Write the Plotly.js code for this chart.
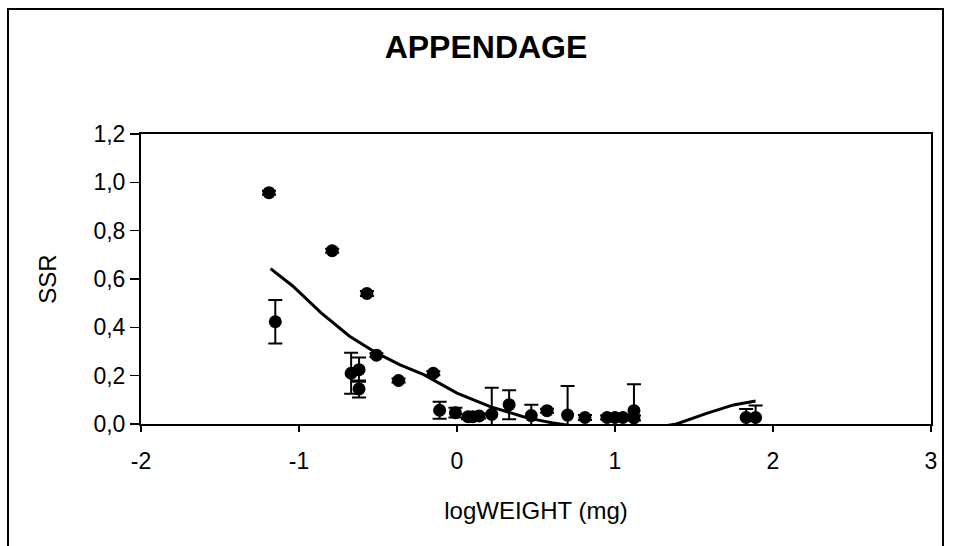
<!DOCTYPE html>
<html>
<head>
<meta charset="utf-8">
<script src="https://cdn.plot.ly/plotly-3.0.1.min.js"></script>
<style>
  html, body { margin: 0; padding: 0; background: #ffffff; }
  #chart { width: 955px; height: 546px; }
</style>
</head>
<body>
<div id="chart"></div>
<script>
// Observed points (logWEIGHT, SSR) with error bar half-lengths
var pointX = [-1.19, -1.15, -0.79, -0.57, -0.51, -0.67, -0.62, -0.62, -0.37, -0.15, -0.11, -0.01, 0.07, 0.10, 0.14, 0.22, 0.33, 0.47, 0.57, 0.70, 0.81, 0.95, 1.00, 1.05, 1.12, 1.12, 1.83, 1.89];
var pointY = [0.957, 0.423, 0.717, 0.54, 0.285, 0.21, 0.225, 0.145, 0.18, 0.21, 0.057, 0.047, 0.03, 0.03, 0.033, 0.04, 0.08, 0.035, 0.055, 0.037, 0.027, 0.027, 0.027, 0.027, 0.055, 0.025, 0.027, 0.027];
var pointErr = [0.008, 0.09, 0.008, 0.01, 0.008, 0.085, 0.05, 0.035, 0.008, 0.008, 0.035, 0.02, 0.01, 0.01, 0.01, 0.11, 0.06, 0.045, 0.008, 0.12, 0.01, 0.008, 0.008, 0.01, 0.11, 0.01, 0.035, 0.05];

// Fitted curve
var curveX = [-1.18, -1.04, -0.86, -0.68, -0.51, -0.36, -0.21, 0.0, 0.21, 0.42, 0.5, 0.6, 0.8, 1.0, 1.2, 1.39, 1.58, 1.75, 1.89];
var curveY = [0.643, 0.571, 0.46, 0.363, 0.294, 0.245, 0.204, 0.128, 0.072, 0.03, 0.018, 0.005, -0.015, -0.025, -0.02, 0.0, 0.044, 0.079, 0.095];

var xTicks = [-2, -1, 0, 1, 2, 3];
var yTicks = [0, 0.2, 0.4, 0.6, 0.8, 1.0, 1.2];

var FONT = 'Liberation Sans, Arial, sans-serif';

var traces = [
  {
    x: pointX, y: pointY, type: 'scatter', mode: 'markers',
    marker: { color: '#000000', size: 13 },
    error_y: { type: 'data', array: pointErr, visible: true, color: '#000000', thickness: 2, width: 7 },
    hoverinfo: 'x+y', showlegend: false
  },
  {
    x: curveX, y: curveY, type: 'scatter', mode: 'lines',
    line: { color: '#000000', width: 3 },
    hoverinfo: 'x+y', showlegend: false
  }
];

var layout = {
  width: 955, height: 546,
  margin: { l: 141, r: 24, t: 134, b: 122 },
  paper_bgcolor: '#ffffff', plot_bgcolor: '#ffffff',
  separators: ', ',
  font: { family: FONT, color: '#000000' },
  title: {
    text: '<b>APPENDAGE</b>',
    font: { family: FONT, size: 32, color: '#000000' },
    x: 486 / 955, xanchor: 'center', y: 1 - 47 / 546, yanchor: 'middle'
  },
  xaxis: {
    range: [-2, 3], tickvals: xTicks, ticktext: xTicks.map(String),
    showgrid: false, zeroline: false,
    showline: true, linecolor: '#000000', linewidth: 2, mirror: true,
    ticks: 'outside', ticklen: 6, tickwidth: 1.5, tickcolor: '#000000',
    ticklabelstandoff: 9,
    tickfont: { family: FONT, size: 23, color: '#000000' },
    title: { text: 'logWEIGHT (mg)', font: { family: FONT, size: 24, color: '#000000' }, standoff: 30 }
  },
  yaxis: {
    range: [0, 1.2], tickvals: yTicks, tickformat: '.1f',
    showgrid: false, zeroline: false,
    showline: true, linecolor: '#000000', linewidth: 2, mirror: true,
    ticks: 'outside', ticklen: 9, tickwidth: 1.5, tickcolor: '#000000',
    tickfont: { family: FONT, size: 23, color: '#000000' },
    title: { text: 'SSR', font: { family: FONT, size: 24, color: '#000000' }, standoff: 30 }
  },
  shapes: [
    {
      type: 'rect', xref: 'paper', yref: 'paper',
      x0: (8 - 141) / 790, x1: (943 - 141) / 790,
      y0: (424 - 560) / 290, y1: (424 - 9) / 290,
      line: { color: '#000000', width: 2 }, fillcolor: 'rgba(0,0,0,0)', layer: 'below'
    }
  ]
};

Plotly.newPlot('chart', traces, layout, { displayModeBar: false, staticPlot: true });
</script>
</body>
</html>
